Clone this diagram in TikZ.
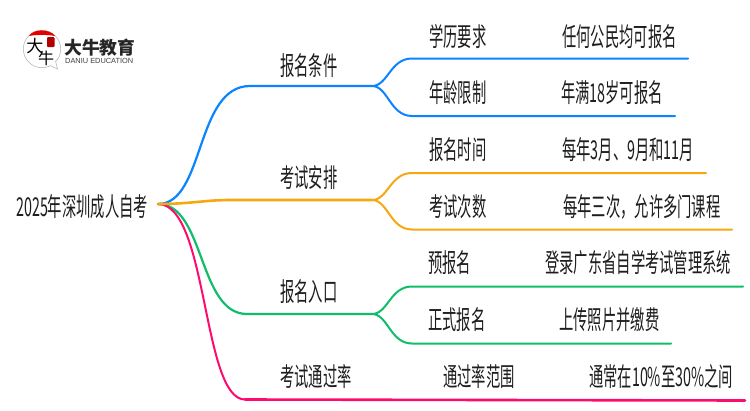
\documentclass[tikz,border=0pt]{standalone}
\usepackage{fontspec}
\setmainfont{Noto Sans CJK SC}
\newfontfamily\cjk[FakeStretch=0.55]{Noto Sans CJK SC}
\newfontfamily\logofont{Noto Sans CJK SC}
\newfontfamily\latinlogo{Liberation Sans}
\definecolor{cblue}{HTML}{0A84FF}
\definecolor{corange}{HTML}{F5A80F}
\definecolor{cgreen}{HTML}{10BE6A}
\definecolor{cpink}{HTML}{FF0A6E}
\definecolor{ctext}{HTML}{1E1E1E}
\tikzset{
  x=1pt,y=-1pt,
  lbl/.style={inner sep=0pt,anchor=west,text=ctext,font=\cjk\fontsize{26}{26}\selectfont},
  conn/.style={line width=2.2pt,line cap=round},
  subconn/.style={line width=2pt,line cap=round},
}
\begin{document}
\begin{tikzpicture}
\useasboundingbox (0,0) rectangle (750,410);
\fill[white] (0,0) rectangle (750,410);
% logo
\fill[white,draw=black!30,line width=.5pt] (42,49) circle (18.7);
\draw[black!30,fill=white,line width=.5pt] (50,65.5) -- (57.5,69) -- (55.5,61);
\fill[red!90!black] (29,36) .. controls (33,28.5) and (50,28.5) .. (55,36) .. controls (47,34.5) and (37,34.5) .. cycle;
\fill[red!70!black,rounded corners=1pt] (47,37) rectangle (54.5,47);
\node[inner sep=0pt,text=black] (lda) at (35,46) {\logofont\fontsize{17}{17}\selectfont 大};
\node[inner sep=0pt,text=black] (lniu) at (46,58) {\logofont\fontsize{16}{16}\selectfont 牛};
\node[inner sep=0pt,anchor=west,text=black!85] (lname) at (64,47.5) {\logofont\bfseries\fontsize{17.8}{18}\selectfont 大牛教育};
\node[inner sep=0pt,anchor=west,text=black!75] (lsub) at (65,60.5) {\latinlogo\fontsize{7.4}{8}\selectfont DANIU EDUCATION};
% anchor points
\coordinate (root) at (158,204);
\coordinate (a1) at (250,86);   \coordinate (f1) at (372,86);
\coordinate (a2) at (230,200);  \coordinate (f2) at (372,200);
\coordinate (a3) at (247,314);  \coordinate (f3) at (372,314);
\coordinate (a4) at (245,399.5);\coordinate (e4) at (745,400.5);
\coordinate (p1) at (412,58.5); \coordinate (q1) at (688,58.5);
\coordinate (p2) at (412,116);  \coordinate (q2) at (675,116);
\coordinate (p3) at (412,173);  \coordinate (q3) at (706,173);
\coordinate (p4) at (412,229.5);\coordinate (q4) at (732,229.5);
\coordinate (p5) at (412,286.5);\coordinate (q5) at (743,286.5);
\coordinate (p6) at (412,343.5);\coordinate (q6) at (671,343.5);
% connectors
\draw[conn,cblue] (root) .. controls (205,204) and (195,86) .. (a1) -- (f1);
\draw[subconn,cblue] (f1) .. controls (388,86) and (390,58.5) .. (p1) -- (q1);
\draw[subconn,cblue] (f1) .. controls (388,86) and (390,116) .. (p2) -- (q2);
\draw[conn,cgreen] (root) .. controls (205,204) and (198,314) .. (a3) -- (f3);
\draw[subconn,cgreen] (f3) .. controls (388,314) and (390,286.5) .. (p5) -- (q5);
\draw[subconn,cgreen] (f3) .. controls (388,314) and (390,343.5) .. (p6) -- (q6);
\draw[conn,cpink,line width=2pt] (root) .. controls (208,204) and (202,399.5) .. (a4);
\draw[conn,cpink,line width=2.6pt] (a4) -- (e4);
\draw[conn,corange,line width=2.6pt] (root) .. controls (190,204) and (205,200) .. (a2) -- (f2);
\draw[subconn,corange] (f2) .. controls (388,200) and (390,173) .. (p3) -- (q3);
\draw[subconn,corange] (f2) .. controls (388,200) and (390,229.5) .. (p4) -- (q4);
% labels
\node[lbl] (title) at (16,207) {2025年深圳成人自考};
\node[lbl] (m1) at (280,66) {报名条件};
\node[lbl] (m2) at (280,178) {考试安排};
\node[lbl] (m3) at (280,292) {报名入口};
\node[lbl] (m4) at (280,377) {考试通过率};
\node[lbl] (s1) at (429,37) {学历要求};
\node[lbl] (s2) at (429,93) {年龄限制};
\node[lbl] (s3) at (429,150) {报名时间};
\node[lbl] (s4) at (429,207) {考试次数};
\node[lbl] (s5) at (428,263) {预报名};
\node[lbl] (s6) at (428,320) {正式报名};
\node[lbl] (s7) at (443,377) {通过率范围};
\node[lbl] (v1) at (562,37) {任何公民均可报名};
\node[lbl] (v2) at (561,93) {年满18岁可报名};
\node[lbl] (v3) at (562,150) {每年3月、9月和11月};
\node[lbl] (v4) at (563,207) {每年三次，允许多门课程};
\node[lbl] (v5) at (545,263) {登录广东省自学考试管理系统};
\node[lbl] (v6) at (559,320) {上传照片并缴费};
\node[lbl] (v7) at (589,377) {通常在10\%至30\%之间};
\end{tikzpicture}
\end{document}
